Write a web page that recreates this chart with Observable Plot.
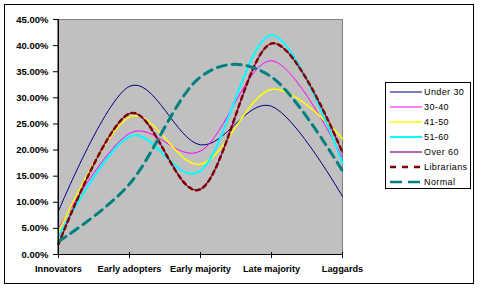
<!DOCTYPE html>
<html><head><meta charset="utf-8">
<script src="https://cdn.jsdelivr.net/npm/d3@7"></script>
<script src="https://cdn.jsdelivr.net/npm/@observablehq/plot@0.6"></script>
<style>
body{margin:0;background:#fff;}
#wrap{position:relative;width:481px;height:288px;font-family:Arial,"Liberation Sans",sans-serif;overflow:hidden;}
#chart{position:absolute;left:0;top:0;}
#border{position:absolute;left:4px;top:4px;width:468px;height:278px;border:1px solid #000;pointer-events:none;}
#legend{position:absolute;left:385px;top:82px;width:84px;height:105px;border:1px solid #000;background:#fff;}
.item{position:absolute;left:4px;height:12px;display:flex;align-items:center;font-size:9px;letter-spacing:0.4px;color:#000;}
.item svg{display:block;margin-right:2px;}
</style></head><body>
<div id="wrap"><div id="chart"></div><div id="legend"></div><div id="border"></div></div>
<script>
const categories = ["Innovators", "Early adopters", "Early majority", "Late majority", "Laggards"];
const yTicks = [0, 0.05, 0.10, 0.15, 0.20, 0.25, 0.30, 0.35, 0.40, 0.45];
const seriesNames = ["Under 30", "30-40", "41-50", "51-60", "Over 60", "Librarians", "Normal"];
const under30    = [0.083, 0.322, 0.210, 0.284, 0.111];
const age30to40  = [0.050, 0.232, 0.198, 0.371, 0.185];
const age41to50  = [0.043, 0.263, 0.173, 0.316, 0.222];
const age51to60  = [0.035, 0.226, 0.160, 0.420, 0.175];
const over60     = [0.020, 0.270, 0.125, 0.404, 0.195];
const librarians = [0.020, 0.270, 0.125, 0.404, 0.195];
const normal     = [0.025, 0.135, 0.340, 0.340, 0.160];

const seriesValues = [under30, age30to40, age41to50, age51to60, over60, librarians, normal];
const styles = [
  {stroke: "#000080", strokeWidth: 1},
  {stroke: "#ff00ff", strokeWidth: 1},
  {stroke: "#ffff00", strokeWidth: 1.5},
  {stroke: "#00ffff", strokeWidth: 2},
  {stroke: "#800080", strokeWidth: 1.2},
  {stroke: "#800000", strokeWidth: 2.5, strokeDasharray: "4,4"},
  {stroke: "#008080", strokeWidth: 3, strokeDasharray: "9,6"}
];

const lineMarks = seriesNames.map((name, i) => {
  const data = categories.map((c, j) => ({series: name, cat: c, value: seriesValues[i][j]}));
  return Plot.lineY(data, {x: "cat", y: "value", curve: "cardinal", tension: 0, ...styles[i]});
});

const chart = Plot.plot({
  width: 481, height: 288,
  marginLeft: 57, marginRight: 139, marginTop: 19, marginBottom: 34,
  style: {fontFamily: "Arial, 'Liberation Sans', sans-serif", fontSize: "9px", background: "transparent", color: "#000"},
  x: {type: "point", domain: categories, padding: 0, label: null},
  y: {domain: [0, 0.45], label: null},
  marks: [
    Plot.frame({fill: "#c0c0c0", stroke: "#808080"}),
    ...lineMarks,
    Plot.ruleY([0], {stroke: "#000"}),
    Plot.ruleX([categories[0]], {stroke: "#000"}),
    Plot.axisY(yTicks, {tickSize: 6, dx: 2, tickFormat: () => "", label: null, stroke: "#000"}),
    Plot.axisY(yTicks, {tickSize: 0, tickPadding: 9, tickFormat: d3.format(".2%"), label: null, fontWeight: "bold", fontSize: 9.5}),
    Plot.axisX({tickSize: 6, dy: -2, tickFormat: () => "", label: null, stroke: "#000"}),
    Plot.axisX({tickSize: 0, tickPadding: 11, label: null, fontWeight: "bold", fontSize: 9.2})
  ]
});
document.getElementById("chart").appendChild(chart);

const legend = document.getElementById("legend");
seriesNames.forEach((name, i) => {
  const s = styles[i];
  const item = document.createElement("div");
  item.className = "item";
  item.style.top = (3 + i * 15) + "px";
  item.innerHTML = `<svg width="32" height="6"><line x1="0" y1="3" x2="32" y2="3" stroke="${s.stroke}" stroke-width="${Math.min(s.strokeWidth, 2.5)}" ${s.strokeDasharray ? `stroke-dasharray="${i === 6 ? '12,6' : '6,6'}"` : ""}/></svg><span>${name}</span>`;
  legend.appendChild(item);
});
</script>
</body></html>
